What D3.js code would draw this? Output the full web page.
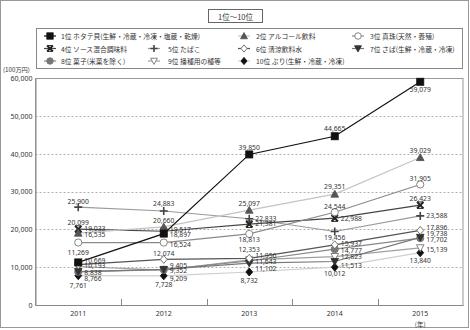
<!DOCTYPE html>
<html><head><meta charset="utf-8">
<script src="https://cdn.jsdelivr.net/npm/d3@7"></script>
<style>
body{margin:0;background:#fff}
text{font-family:"Noto Sans CJK JP","Noto Sans",sans-serif;fill:#333}
</style>
</head><body><svg id="c" width="470" height="330"></svg>
<script>
// ---- data ----
const years = ["2011","2012","2013","2014","2015"];
const seriesNames = [
  "1位 ホタテ貝(生鮮・冷蔵・冷凍・塩蔵・乾燥)",
  "2位 アルコール飲料",
  "3位 真珠(天然・養殖)",
  "4位 ソース混合調味料",
  "5位 たばこ",
  "6位 清涼飲料水",
  "7位 さば(生鮮・冷蔵・冷凍)",
  "8位 菓子(米菓を除く)",
  "9位 播種用の種等",
  "10位 ぶり(生鮮・冷蔵・冷凍)"
];
const hotate  = [11269, 18897, 39850, 44665, 59079];
const alcohol = [19033, 20660, 25097, 29351, 39029];
const pearl   = [16535, 16524, 18813, 24544, 31905];
const sauce   = [20099, 19517, 21381, 22988, 26423];
const tobacco = [25900, 24883, 22833, 19456, 23588];
const water   = [10669, 12074, 12353, 15937, 19738];
const saba    = [8838, 9405, 11102, 11513, 17896];
const kashi   = [8766, 9352, 11643, 14777, 17702];
const seeds   = [10193, 9209, 11956, 12823, 15139];
const buri    = [7761, 7728, 8732, 10012, 13840];
const yTicks  = [0, 10000, 20000, 30000, 40000, 50000, 60000];
const titleText = "1位～10位";
const unitText = "(100万円)";
const yearUnit = "(年)";

// ---- styles / layout (not data) ----
const values = [hotate, alcohol, pearl, sauce, tobacco, water, saba, kashi, seeds, buri];
const styles = [
  {line:"#111", sym:"square",  fill:"#111", stroke:"#111"},
  {line:"#c4c4c4", sym:"tri",  fill:"#555", stroke:"#555"},
  {line:"#8a8a8a", sym:"circle", fill:"#fff", stroke:"#777"},
  {line:"#444", sym:"x",       fill:"#222", stroke:"#222"},
  {line:"#9a9a9a", sym:"plus", fill:"#444", stroke:"#444"},
  {line:"#555", sym:"diamond", fill:"#fff", stroke:"#666"},
  {line:"#777", sym:"itri",    fill:"#333", stroke:"#333"},
  {line:"#888", sym:"circle",  fill:"#777", stroke:"#777"},
  {line:"#a0a0a0", sym:"itri", fill:"#fff", stroke:"#777"},
  {line:"#cfcfcf", sym:"diamond", fill:"#111", stroke:"#111"}
];
const labelPos = [
  [['c',-10.4],['r',0.7],['c',-7],['c',-7.5],['c',7.3]],
  [['r',-4.7],['c',-6],['c',-6.8],['c',-7.4],['c',-6.8]],
  [['r',-7.8],['r',1.8],['c',6],['c',-6.2],['c',-6]],
  [['c',-6.3],['r',-2],['r',-0.5],['r',0],['c',-6.8]],
  [['c',-5.4],['c',-7],['r',-0.4],['c',5.8],['r',0]],
  [['r',-4],['c',-5.4],['c',-9],['r',-0.8],['r',3]],
  [['r',0.4],['r',-4.4],['r',5.7],['r',3.5],['r',-9.7]],
  [['r',7],['r',1],['r',0.3],['r',0.9],['r',1.2]],
  [['r',-0.8],['r',8.5],['r',-4],['r',0.2],['r',1.5]],
  [['c',10.3],['c',8.5],['c',8.7],['c',6.8],['c',7.3]]
];
const legendCells = [[0,0],[0,2],[0,3],[1,0],[1,1],[1,2],[1,3],[2,0],[2,1],[2,2]];
const legMarkX = [50,154,244,358], legTextX = [61,168,256,370], legRowY = [36,48.5,61];

const svg = d3.select("#c");
const L = 35.5, R = 463, T = 78.3, B = 305;
const x = d3.scaleBand().domain(years).range([L, R]);
const y = d3.scaleLinear().domain([0, 60000]).range([B, T]);
const fmt = d3.format(",");

// outer border
svg.append("rect").attr("x",0.5).attr("y",0.5).attr("width",468).attr("height",327)
  .attr("fill","none").attr("stroke","#999");

// title
svg.append("rect").attr("x",208.5).attr("y",9.5).attr("width",54).attr("height",13)
  .attr("fill","#fff").attr("stroke","#666");
svg.append("text").attr("x",235.5).attr("y",16).attr("text-anchor","middle")
  .attr("dominant-baseline","central").attr("font-size",7.5).text(titleText);

// legend box
svg.append("rect").attr("x",36.5).attr("y",28.5).attr("width",426).attr("height",40)
  .attr("fill","#fff").attr("stroke","#888");

function drawSym(g, st, cx, cy, s) {
  s = s || 1;
  const sw = 0.9;
  if (st.sym === "square") {
    g.append("rect").attr("x",cx-3.5*s).attr("y",cy-3.5*s).attr("width",7*s).attr("height",7*s)
      .attr("fill",st.fill).attr("stroke",st.stroke).attr("stroke-width",sw);
  } else if (st.sym === "circle") {
    g.append("circle").attr("cx",cx).attr("cy",cy).attr("r",3.6*s)
      .attr("fill",st.fill).attr("stroke",st.stroke).attr("stroke-width",sw);
  } else if (st.sym === "tri" || st.sym === "itri") {
    const d = st.sym === "tri" ? 1 : -1, h = 3.8*s;
    g.append("path").attr("d",`M${cx},${cy-d*h}L${cx+h},${cy+d*h*0.8}L${cx-h},${cy+d*h*0.8}Z`)
      .attr("fill",st.fill).attr("stroke",st.stroke).attr("stroke-width",sw);
  } else if (st.sym === "diamond") {
    const h = 4*s;
    g.append("path").attr("d",`M${cx},${cy-h}L${cx+h*0.85},${cy}L${cx},${cy+h}L${cx-h*0.85},${cy}Z`)
      .attr("fill",st.fill).attr("stroke",st.stroke).attr("stroke-width",sw);
  } else if (st.sym === "plus") {
    const h = 4*s;
    g.append("path").attr("d",`M${cx-h},${cy}H${cx+h}M${cx},${cy-h}V${cy+h}`)
      .attr("stroke",st.stroke).attr("stroke-width",1.6).attr("fill","none");
  } else if (st.sym === "x") {
    const h = 3.2*s;
    g.append("path").attr("d",`M${cx-h},${cy-h}L${cx+h},${cy+h}M${cx+h},${cy-h}L${cx-h},${cy+h}`)
      .attr("stroke",st.stroke).attr("stroke-width",2).attr("fill","none");
    g.append("path").attr("d",`M${cx-h},${cy-h}H${cx+h}M${cx-h},${cy+h}H${cx+h}`)
      .attr("stroke",st.stroke).attr("stroke-width",1).attr("fill","none");
  }
}

// legend items
seriesNames.forEach((name, i) => {
  const [r, c] = legendCells[i];
  const mx = legMarkX[c], my = legRowY[r];
  const g = svg.append("g");
  g.append("line").attr("x1",mx-6).attr("x2",mx+6).attr("y1",my).attr("y2",my)
    .attr("stroke",styles[i].line).attr("stroke-width",1.2);
  drawSym(g, styles[i], mx, my, 0.9);
  svg.append("text").attr("x",legTextX[c]).attr("y",my).attr("dominant-baseline","central")
    .attr("font-size",6.8).text(name);
});

// unit label
svg.append("text").attr("x",3).attr("y",69.5).attr("dominant-baseline","central")
  .attr("font-size",6.2).text(unitText);

// gridlines
svg.append("g").selectAll("line").data(yTicks.filter(v => v > 0 && v < 60000)).join("line")
  .attr("x1",L).attr("x2",R).attr("y1",d => Math.round(y(d))+0.5).attr("y2",d => Math.round(y(d))+0.5)
  .attr("stroke","#9a9a9a").attr("stroke-dasharray","2,2").attr("stroke-width",0.8);

// plot frame
svg.append("rect").attr("x",L).attr("y",Math.round(T)+0.5).attr("width",R-L).attr("height",B-Math.round(T))
  .attr("fill","none").attr("stroke","#999").attr("stroke-width",1);

// y axis
const yAxis = svg.append("g").attr("transform",`translate(${L},0)`)
  .call(d3.axisLeft(y).tickValues(yTicks).tickFormat(fmt).tickSize(0).tickPadding(3));
yAxis.select(".domain").attr("stroke","#888");
yAxis.selectAll("text").attr("font-size",7).attr("fill","#333")
  .style("font-family","'Noto Sans','DejaVu Sans',sans-serif");

// x axis
const xAxis = svg.append("g").attr("transform",`translate(0,${B})`)
  .call(d3.axisBottom(x).tickSize(0).tickPadding(6));
xAxis.select(".domain").attr("stroke","#888");
xAxis.selectAll("text").attr("font-size",7).attr("fill","#333")
  .style("font-family","'Noto Sans','DejaVu Sans',sans-serif");
// inward boundary ticks
svg.append("g").selectAll("line").data(years.slice(1)).join("line")
  .attr("x1",d => Math.round(x(d))+0.5).attr("x2",d => Math.round(x(d))+0.5)
  .attr("y1",B).attr("y2",B-6).attr("stroke","#888");
svg.append("text").attr("x",x("2015")+x.bandwidth()/2).attr("y",323.5).attr("text-anchor","middle")
  .attr("dominant-baseline","central").attr("font-size",6.5).text(yearUnit);

const cx = d => x(d) + x.bandwidth()/2;
const line = d3.line().x((v,j) => cx(years[j])).y(v => y(v));

// lines (draw from last to first so top series on top)
const order = d3.range(values.length).reverse();
order.forEach(i => {
  svg.append("path").attr("d", line(values[i])).attr("fill","none")
    .attr("stroke",styles[i].line).attr("stroke-width",1.2);
});
order.forEach(i => {
  const g = svg.append("g");
  values[i].forEach((v,j) => drawSym(g, styles[i], cx(years[j]), y(v), 1));
});
// labels
values.forEach((vals, i) => {
  vals.forEach((v, j) => {
    const [mode, dy] = labelPos[i][j];
    svg.append("text")
      .attr("x", cx(years[j]) + (mode === 'r' ? 6 : 0))
      .attr("y", y(v) + dy)
      .attr("text-anchor", mode === 'r' ? "start" : "middle")
      .attr("dominant-baseline","central")
      .attr("font-size",6.8)
      .style("font-family","'Noto Sans','DejaVu Sans',sans-serif")
      .text(fmt(v));
  });
});
</script>
</body></html>
